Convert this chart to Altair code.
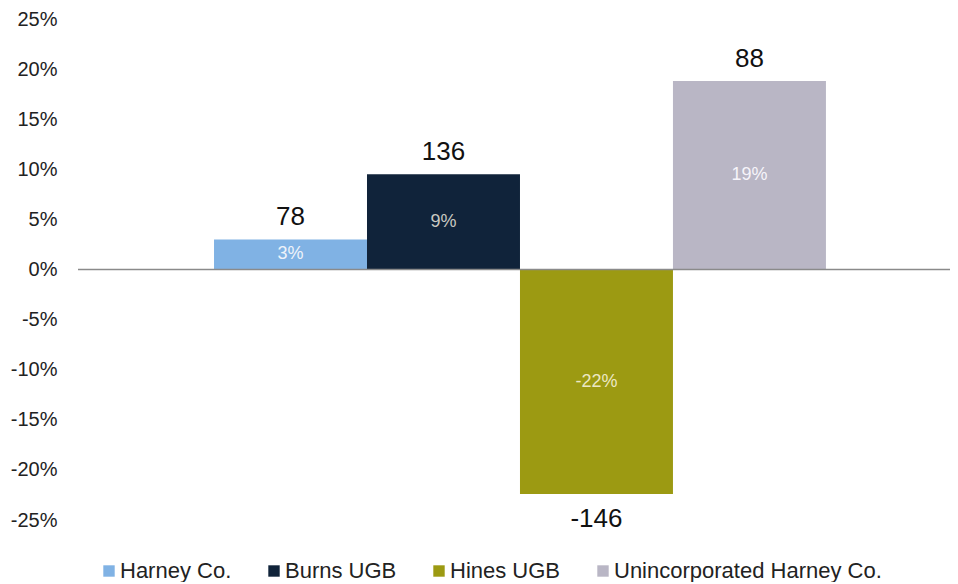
import altair as alt
import pandas as pd

series = ["Harney Co.", "Burns UGB", "Hines UGB", "Unincorporated Harney Co."]
pct_change = [3.0, 9.5, -22.4, 18.8]
pct_labels = ["3%", "9%", "-22%", "19%"]
count_labels = ["78", "136", "-146", "88"]
colors = ["#80b2e4", "#10233a", "#9c9a12", "#b9b6c5"]
inner_text_colors = ["#eef2fa", "#c9c9c1", "#ece8c4", "#f6f4fa"]
y_ticks = [-25, -20, -15, -10, -5, 0, 5, 10, 15, 20, 25]

df = pd.DataFrame({
    "series": series,
    "value": pct_change,
    "pct": pct_labels,
    "count": count_labels,
    "tcolor": inner_text_colors,
})

W, H = 872, 501
FONT = "Liberation Sans"

x_enc = alt.X("series:N", sort=series, axis=None,
              scale=alt.Scale(paddingInner=0, paddingOuter=0.85, align=0.523))
y_scale = alt.Scale(domain=[-25, 25], nice=False, zero=True)
y_axis = alt.Axis(values=y_ticks, labelExpr="datum.value + '%'", domain=False,
                  ticks=False, grid=False, labelPadding=21, labelFontSize=20,
                  labelColor="#222222", labelFont=FONT, title=None)

base = alt.Chart(df)

bars = base.mark_bar().encode(
    x=x_enc,
    y=alt.Y("value:Q", scale=y_scale, axis=y_axis),
    color=alt.Color("series:N", sort=series,
                    scale=alt.Scale(domain=series, range=colors),
                    legend=alt.Legend(orient="none", legendX=20, legendY=541,
                                      direction="horizontal", title=None,
                                      symbolType="square", symbolSize=130,
                                      symbolStrokeWidth=0, labelFontSize=22,
                                      labelFont=FONT, labelColor="#222222",
                                      labelOffset=0, columnPadding=31,
                                      labelLimit=400)),
)

zero_df = pd.DataFrame({"zero": [0]})
zero_line = alt.Chart(zero_df).mark_rule(color="#8a8a8a", strokeWidth=1.5).encode(
    y=alt.Y("zero:Q", scale=y_scale),
    x=alt.value(0),
    x2=alt.value(W),
)

top_labels = base.transform_filter("datum.value >= 0").mark_text(
    baseline="bottom", dy=-9, fontSize=26, font=FONT, color="#111111"
).encode(x=x_enc, y=alt.Y("value:Q", scale=y_scale), text="count:N")

bottom_labels = base.transform_filter("datum.value < 0").mark_text(
    baseline="top", dy=12, fontSize=26, font=FONT, color="#111111"
).encode(x=x_enc, y=alt.Y("value:Q", scale=y_scale), text="count:N")

mid_labels = base.transform_calculate(mid="datum.value / 2").mark_text(
    baseline="middle", fontSize=18, font=FONT
).encode(x=x_enc, y=alt.Y("mid:Q", scale=y_scale),
         text="pct:N", color=alt.Color("tcolor:N", scale=None))

chart = alt.layer(bars, zero_line, top_labels, bottom_labels, mid_labels).resolve_scale(
    color="independent"
).properties(
    width=W, height=H,
    background="white",
    autosize=alt.AutoSizeParams(type="none"),
    padding={"left": 70, "top": 11, "right": 0, "bottom": 62},
).configure_view(stroke=None)

chart.save("out.html", embed_options={"renderer": "svg", "actions": False})
